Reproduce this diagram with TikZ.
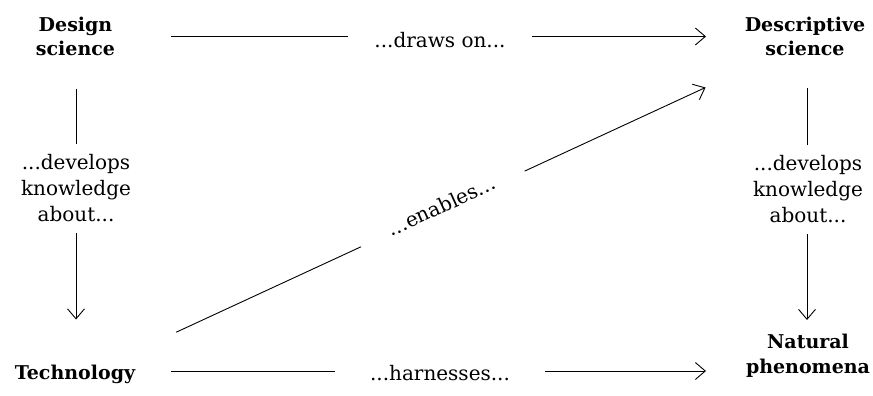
\documentclass[tikz,border=0pt]{standalone}
\usepackage{fontspec}
\setmainfont{DejaVu Serif}
\usetikzlibrary{arrows.meta}
\begin{document}
\begin{tikzpicture}[x=1pt,y=-1pt,
  title/.style={font=\fontsize{19}{24.5}\selectfont\bfseries, align=center, inner sep=0pt},
  lbl/.style={font=\fontsize{20}{26}\selectfont, align=center, fill=white, inner sep=0pt},
  arr/.style={-{Straight Barb[length=10pt,width=17pt]}, line width=0.9pt}]
\useasboundingbox (0,0) rectangle (873,396);
\node[title] (ds) at (75.5,36.5) {Design\\science};
\node[title] (desc) at (805,36.5) {Descriptive\\science};
\node[title] (tech) at (75,374) {Technology};
\node[title] (nat) at (808,356) {Natural\\phenomena};
% connectors
\draw[arr, shorten <=95.5pt, shorten >=99pt] (ds.center) -- (desc.center);
\draw[arr, shorten <=96pt, shorten >=102pt] ([yshift=3pt]tech.center) -- ([yshift=3pt]tech.center -| nat.center);
\draw[arr, shorten <=52.5pt, shorten >=54.5pt] ([xshift=0.5pt]ds.center) -- ([xshift=0.5pt]ds.center |- tech.center);
\draw[arr, shorten <=51.5pt, shorten >=36pt] ([xshift=2pt]desc.center) -- ([xshift=2pt]desc.center |- nat.center);
\draw[arr, shorten <=111.5pt, shorten >=109.6pt] ([yshift=-5pt]tech.center) -- ([yshift=-5pt]desc.center);
% labels
\node[lbl, anchor=base, inner xsep=26pt, inner ysep=3pt] (l1) at (440,48) {...draws on...};
\node[lbl, anchor=base, inner xsep=35pt, inner ysep=3pt] (l2) at (440,380) {...harnesses...};
\node[lbl, inner xsep=4pt, inner ysep=11pt] (l3) at (76,188.5) {...develops\\knowledge\\about...};
\node[lbl, inner xsep=4pt, inner ysep=11pt] (l4) at (808,189.5) {...develops\\knowledge\\about...};
\node[lbl, rotate=24.6, anchor=base, inner xsep=32pt, inner ysep=4pt] (l5) at (444.5,212.5) {...enables...};
\end{tikzpicture}
\end{document}
